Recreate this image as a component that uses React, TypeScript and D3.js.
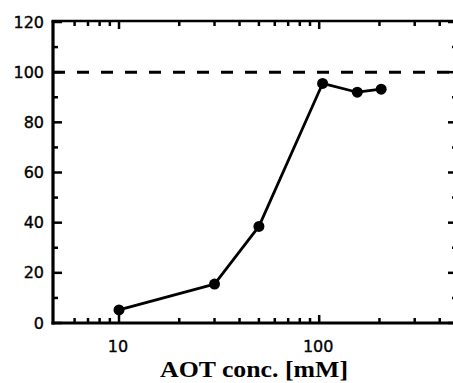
import React from "react";
import * as d3 from "d3";

const conc = [10, 30, 50, 104, 155, 204];
const percent = [5.2, 15.5, 38.5, 95.5, 92, 93.2];
const yTicks = [0, 20, 40, 60, 80, 100, 120];
const yMinor = [10, 30, 50, 70, 90, 110];
const xTickLabels = [10, 100];
const xMinor = [6, 7, 8, 9, 20, 30, 40, 50, 60, 70, 80, 90, 200, 300, 400];
const xMajor = [10, 100];
const refLine = 100;
const xTitle = "AOT conc. [mM]";

const W = 453, H = 383;
const left = 53, right = 457, top = 22, bottom = 323;

export default function App() {
  const x = d3.scaleLog().domain([4.68, 488]).range([left, right]);
  const y = d3.scaleLinear().domain([0, 120]).range([bottom, top]);
  const line = d3.line<number>().x((_, i) => x(conc[i])).y((d) => y(d));
  const num = { fontFamily: "DejaVu Sans", fontSize: 16, fill: "#000", stroke: "#000", strokeWidth: 0.35 } as const;
  return (
    <svg width={W} height={H} style={{ position: "absolute", left: 0, top: 0, background: "#fff" }}>
      {/* frame */}
      <line x1={left} x2={left} y1={top - 1} y2={bottom + 1.5} stroke="#000" strokeWidth={3.2} />
      <line x1={left - 1.5} x2={W + 5} y1={bottom} y2={bottom} stroke="#000" strokeWidth={3} />
      <line x1={left - 1.5} x2={W + 5} y1={top - 1} y2={top - 1} stroke="#000" strokeWidth={2.6} />
      <line x1={right} x2={right} y1={top} y2={bottom} stroke="#000" strokeWidth={3} />
      {/* y ticks */}
      {yTicks.map((t) => (
        <g key={"y" + t}>
          <line x1={left} x2={left + 9} y1={y(t)} y2={y(t)} stroke="#000" strokeWidth={2.5} />
          <line x1={right} x2={right - 9} y1={y(t)} y2={y(t)} stroke="#000" strokeWidth={2.5} />
          <text x={44} y={y(t)} textAnchor="end" dominantBaseline="central" {...num}>{t}</text>
        </g>
      ))}
      {yMinor.map((t) => (
        <g key={"ym" + t}>
          <line x1={left} x2={left + 5} y1={y(t)} y2={y(t)} stroke="#000" strokeWidth={2.5} />
          <line x1={right} x2={right - 5} y1={y(t)} y2={y(t)} stroke="#000" strokeWidth={2.5} />
        </g>
      ))}
      {/* x ticks */}
      {xMinor.map((t) => (
        <g key={"xm" + t}>
          <line x1={x(t)} x2={x(t)} y1={bottom} y2={bottom - 5} stroke="#000" strokeWidth={2.5} />
          <line x1={x(t)} x2={x(t)} y1={top - 1} y2={top + 4} stroke="#000" strokeWidth={2.5} />
        </g>
      ))}
      {xMajor.map((t) => (
        <g key={"xM" + t}>
          <line x1={x(t)} x2={x(t)} y1={bottom} y2={bottom - 8} stroke="#000" strokeWidth={2.5} />
          <line x1={x(t)} x2={x(t)} y1={top - 1} y2={top + 7} stroke="#000" strokeWidth={2.5} />
        </g>
      ))}
      {xTickLabels.map((t) => (
        <text key={"xl" + t} x={x(t) - 1} y={346} textAnchor="middle" dominantBaseline="central" {...num}>{t}</text>
      ))}
      {/* reference line */}
      <line x1={left} x2={W} y1={y(refLine)} y2={y(refLine)} stroke="#000" strokeWidth={3} strokeDasharray="12 12" />
      {/* data */}
      <path d={line(percent) ?? ""} fill="none" stroke="#000" strokeWidth={2.8} strokeLinejoin="round" />
      {percent.map((v, i) => (
        <circle key={"p" + i} cx={x(conc[i])} cy={y(v)} r={5.5} fill="#000" />
      ))}
      <text x={254} y={377} textAnchor="middle" fontFamily="Liberation Serif" fontWeight="bold" fontSize={23} textLength={188} lengthAdjust="spacingAndGlyphs" fill="#000">{xTitle}</text>
    </svg>
  );
}
